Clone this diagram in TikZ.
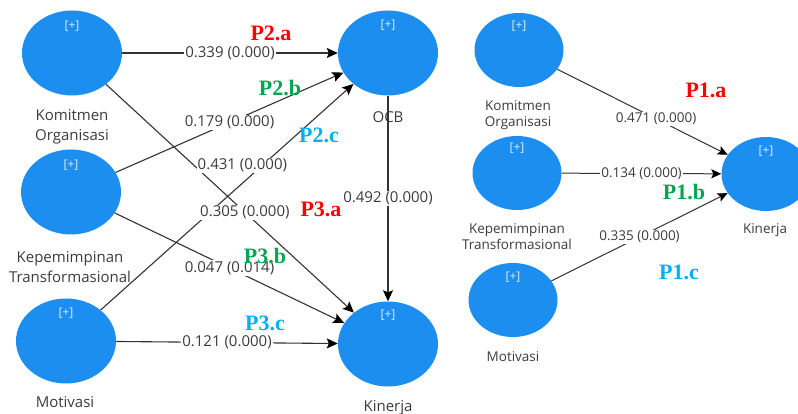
\documentclass[tikz,border=0pt]{standalone}
\usepackage{fontspec}
\setmainfont{Open Sans}
\newfontfamily\pfont{Liberation Serif}
\usetikzlibrary{arrows.meta,shapes.geometric,calc}
\definecolor{nodeblue}{RGB}{28,142,240}
\definecolor{pred}{RGB}{255,0,0}
\definecolor{pgreen}{RGB}{0,166,80}
\definecolor{pcyan}{RGB}{0,176,240}
\definecolor{txt}{RGB}{60,60,60}
\begin{document}
\begin{tikzpicture}[x=1pt,y=-1pt,
 lv/.style={ellipse, fill=nodeblue, minimum width=100pt, minimum height=85pt, inner sep=0pt},
 lvs/.style={ellipse, fill=nodeblue, minimum width=89pt, minimum height=74pt, inner sep=0pt},
 plus/.style={text=white!85!nodeblue, font=\fontsize{12}{12}\selectfont, inner sep=0pt},
 lvname/.style={text=txt, font=\fontsize{15}{20}\selectfont, align=center, inner sep=0pt},
 lvnames/.style={text=txt, font=\fontsize{13.5}{16}\selectfont, align=center, inner sep=0pt},
 conn/.style={draw=black!80, line width=1.1pt, -{Stealth[length=11pt,width=10pt,inset=2pt,color=black]}},
 conns/.style={draw=black!80, line width=1pt, -{Stealth[length=10pt,width=9pt,inset=2pt,color=black]}},
 coef/.style={fill=white, text=txt, font=\fontsize{15}{15}\selectfont, inner sep=1pt},
 coefs/.style={fill=white, text=txt, font=\fontsize{13.5}{13.5}\selectfont, inner sep=1pt},
 hyp/.style={font=\pfont\bfseries\fontsize{22}{22}\selectfont, inner sep=0pt}
]
\useasboundingbox (0,0) rectangle (798,414);

% ---------- left model ----------
\node[lv] (ko)  at (72,53)  {};
\node[lv] (kt)  at (71,192) {};
\node[lv] (mo)  at (66,341) {};
\node[lv] (ocb) at (388,53) {};
\node[lv] (kin) at (388,344) {};

\node[plus] (kop)  at ($(ko)+(0,-27)$)  {[+]};
\node[plus] (ktp)  at ($(kt)+(0,-27)$)  {[+]};
\node[plus] (mop)  at ($(mo)+(0,-28)$)  {[+]};
\node[plus] (ocbp) at ($(ocb)+(0,-28)$) {[+]};
\node[plus] (kinp) at ($(kin)+(0,-29)$) {[+]};

\node[lvname] (kol)  at (72,127)  {Komitmen\\Organisasi};
\node[lvname] (ktl)  at (70,267)  {Kepemimpinan\\Transformasional};
\node[lvname] (mol)  at (65,402)  {Motivasi};
\node[lvname] (ocbl) at (388,117) {OCB};
\node[lvname] (kinl) at (388,408) {Kinerja};

\draw[conn] (ko) -- coordinate[pos=0.5] (e1) (ocb);
\draw[conn] (ko) -- coordinate[pos=0.56] (e2) (kin);
\draw[conn] (kt) -- coordinate[pos=0.5] (e3) (ocb);
\draw[conn] (mo) -- coordinate[pos=0.64] (e4) (ocb);
\draw[conn] (kt) -- coordinate[pos=0.5] (e5) (kin);
\draw[conn] (mo) -- coordinate[pos=0.5] (e6) (kin);
\draw[conn] (ocb) -- coordinate[pos=0.5] (e7) (kin);

\node[coef] (c1) at (e1) {0.339 (0.000)};
\node[coef] (c2) at (e2) {0.305 (0.000)};
\node[coef] (c3) at (e3) {0.179 (0.000)};
\node[coef] (c4) at ($(e4)+(-20,0)$) {0.431 (0.000)};
\node[coef] (c5) at (e5) {0.047 (0.014)};
\node[coef] (c6) at (e6) {0.121 (0.000)};
\node[coef] (c7) at (e7) {0.492 (0.000)};

% ---------- right model ----------
\node[lvs] (ko2)  at (519,50)  {};
\node[lvs] (kt2)  at (517,173) {};
\node[lvs] (mo2)  at (513,300) {};
\node[lvs] (kin2) at (766,174) {};

\node[plus] (ko2p)  at ($(ko2)+(0,-24)$)  {[+]};
\node[plus] (kt2p)  at ($(kt2)+(0,-25)$)  {[+]};
\node[plus] (mo2p)  at ($(mo2)+(0,-23)$)  {[+]};
\node[plus] (kin2p) at ($(kin2)+(0,-23)$) {[+]};

\node[lvnames] (ko2l)  at (518,115) {Komitmen\\Organisasi};
\node[lvnames] (kt2l)  at (517,237) {Kepemimpinan\\Transformasional};
\node[lvnames] (mo2l)  at (513,357) {Motivasi};
\node[lvnames] (kin2l) at (765,230) {Kinerja};

\draw[conns] (ko2) -- coordinate[pos=0.58] (f1) (kin2);
\draw[conns] (kt2) -- coordinate[pos=0.5] (f2) (kin2);
\draw[conns] (mo2) -- coordinate[pos=0.5] (f3) (kin2);

\node[coefs] (d1) at (f1) {0.471 (0.000)};
\node[coefs] (d2) at (f2) {0.134 (0.000)};
\node[coefs] (d3) at (f3) {0.335 (0.000)};

% ---------- hypothesis labels ----------
\node[hyp,text=pred]   (p2a) at (271,33)  {P2.a};
\node[hyp,text=pgreen] (p2b) at (280,88)  {P2.b};
\node[hyp,text=pcyan]  (p2c) at (319,135) {P2.c};
\node[hyp,text=pred]   (p3a) at (321,209) {P3.a};
\node[hyp,text=pgreen] (p3b) at (265,256) {P3.b};
\node[hyp,text=pcyan]  (p3c) at (265,323) {P3.c};
\node[hyp,text=pred]   (p1a) at (706,90)  {P1.a};
\node[hyp,text=pgreen] (p1b) at (684,192) {P1.b};
\node[hyp,text=pcyan]  (p1c) at (679,272) {P1.c};
\end{tikzpicture}
\end{document}
